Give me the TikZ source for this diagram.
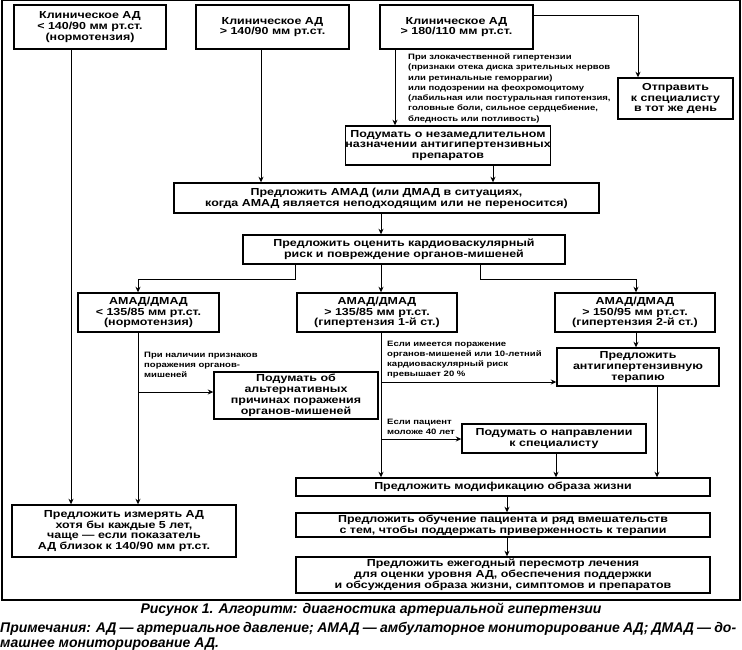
\documentclass[tikz,border=0pt]{standalone}
\usepackage{fontspec}
\setmainfont{Liberation Sans}
\newfontfamily\boxfont{Liberation Sans}[FakeStretch=1.22]
\usetikzlibrary{arrows.meta}
\begin{document}
\begin{tikzpicture}[x=1pt,y=-1pt,
  box/.style={draw, line width=1.4pt, inner sep=0pt, align=center,
    font=\boxfont\bfseries\fontsize{10.2}{10.8}\selectfont},
  note/.style={anchor=base west, inner sep=0pt, align=left,
    font=\boxfont\bfseries\fontsize{7.8}{10}\selectfont},
  arr/.style={line width=0.8pt, -{Stealth[length=5.5pt,width=5pt]}},
  capt/.style={inner sep=0pt, font=\bfseries\itshape\fontsize{14}{16}\selectfont}]
\useasboundingbox (0,0) rectangle (742,650);
\draw[line width=1.4pt] (2,0.7) rectangle (740,600);

\node[box, minimum width=152pt, minimum height=44pt] (b1) at (90,27)
  {Клиническое АД\\< 140/90 мм рт.ст.\\(нормотензия)};
\node[box, minimum width=153pt, minimum height=44pt] (b2) at (272.5,27)
  {Клиническое АД\\> 140/90 мм рт.ст.};
\node[box, minimum width=153pt, minimum height=44pt] (b3) at (456.5,27)
  {Клиническое АД\\> 180/110 мм рт.ст.};
\node[box, minimum width=115pt, minimum height=41pt] (b4) at (675.5,98.5)
  {Отправить\\к специалисту\\в тот же день};
\node[box, minimum width=184pt, minimum height=39pt] (b5) at (448,145.5)
  {Подумать о незамедлительном\\назначении антигипертензивных\\препаратов};
\node[box, minimum width=425pt, minimum height=30pt] (b6) at (386.5,198)
  {Предложить АМАД (или ДМАД в ситуациях,\\когда АМАД является неподходящим или не переносится)};
\node[box, minimum width=322pt, minimum height=29pt] (b7) at (404,249.5)
  {Предложить оценить кардиоваскулярный\\риск и повреждение органов-мишеней};
\node[box, minimum width=141pt, minimum height=39pt] (b8) at (148.5,312.5)
  {АМАД/ДМАД\\< 135/85 мм рт.ст.\\(нормотензия)};
\node[box, minimum width=160pt, minimum height=39pt] (b9) at (377,312.5)
  {АМАД/ДМАД\\> 135/85 мм рт.ст.\\(гипертензия 1-й ст.)};
\node[box, minimum width=160pt, minimum height=39pt] (b10) at (635,312.5)
  {АМАД/ДМАД\\> 150/95 мм рт.ст.\\(гипертензия 2-й ст.)};
\node[box, minimum width=162pt, minimum height=38pt] (b11) at (638,367)
  {Предложить\\антигипертензивную\\терапию};
\node[box, minimum width=164pt, minimum height=47pt] (b12) at (296,395.5)
  {Подумать об\\альтернативных\\причинах поражения\\органов-мишеней};
\node[box, minimum width=184pt, minimum height=29pt] (b13) at (554,438.5)
  {Подумать о направлении\\к специалисту};
\node[box, minimum width=414pt, minimum height=18pt] (b14) at (503,487)
  {Предложить модификацию образа жизни};
\node[box, minimum width=414pt, minimum height=24pt] (b15) at (503,525)
  {Предложить обучение пациента и ряд вмешательств\\с тем, чтобы поддержать приверженность к терапии};
\node[box, minimum width=414pt, minimum height=36pt] (b16) at (503,575)
  {Предложить ежегодный пересмотр лечения\\для оценки уровня АД, обеспечения поддержки\\и обсуждения образа жизни, симптомов и препаратов};
\node[box, minimum width=224pt, minimum height=52pt] (b17) at (124,531)
  {Предложить измерять АД\\хотя бы каждые 5 лет,\\чаще — если показатель\\АД близок к 140/90 мм рт.ст.};

\node[note, font=\boxfont\bfseries\fontsize{7.8}{10.3}\selectfont] (n1) at (408,121.3)
  {При злокачественной гипертензии\\(признаки отека диска зрительных нервов\\или ретинальные геморрагии)\\или подозрении на феохромоцитому\\(лабильная или постуральная гипотензия,\\головные боли, сильное сердцебиение,\\бледность или потливость)};
\node[note] (n2) at (144,377)
  {При наличии признаков\\поражения органов-\\мишеней};
\node[note] (n3) at (387,376)
  {Если имеется поражение\\органов-мишеней или 10-летний\\кардиоваскулярный риск\\превышает 20 \%};
\node[note] (n4) at (387,434)
  {Если пациент\\моложе 40 лет};

\draw[arr] (b1.south -| 71,0) -- (b17.north -| 71,0);
\draw[arr] (b2.south -| 261,0) -- (b6.north -| 261,0);
\draw[arr] (b3.south -| 395,0) -- (b5.north -| 395,0);
\draw[arr] (b3.east |- 0,15) -| (b4.north -| 638,0);
\draw[arr] (b5.south -| 493,0) -- (b6.north -| 493,0);
\draw[arr] (b6.south -| 381,0) -- (b7.north -| 381,0);
\draw[arr] (b7.south -| 295,0) -- ++(0,15) -| (b8.north -| 138,0);
\draw[arr] (b7.south -| 381,0) -- (b9.north -| 381,0);
\draw[arr] (b7.south -| 480,0) -- ++(0,15) -| (b10.north -| 636,0);
\draw[arr] (b10.south -| 636,0) -- (b11.north -| 636,0);
\draw[arr] (b8.south -| 138,0) -- (b17.north -| 138,0);
\coordinate (j1) at (138,392);
\draw[arr] (j1) -- (b12.west |- j1);
\draw[arr] (b9.south -| 381,0) -- (b14.north -| 381,0);
\coordinate (j2) at (381,382);
\draw[arr] (j2) -- (b11.west |- j2);
\coordinate (j3) at (381,439);
\draw[arr] (j3) -- (b13.west |- j3);
\draw[arr] (b13.south -| 556,0) -- (b14.north -| 556,0);
\draw[arr] (b11.south -| 657,0) -- (b14.north -| 657,0);
\draw[arr] (b14.south -| 507,0) -- (b15.north -| 507,0);
\draw[arr] (b15.south -| 507,0) -- (b16.north -| 507,0);

\node[capt, anchor=base] (cap) at (371,613)
  {Рисунок 1. Алгоритм: диагностика артериальной гипертензии};
\node[capt, anchor=base west] (nt1) at (0,632)
  {\makebox[736pt][s]{Примечания: АД — артериальное давление; АМАД — амбулаторное мониторирование АД; ДМАД — до-}};
\node[capt, anchor=base west] (nt2) at (0,647)
  {машнее мониторирование АД.};
\end{tikzpicture}
\end{document}
